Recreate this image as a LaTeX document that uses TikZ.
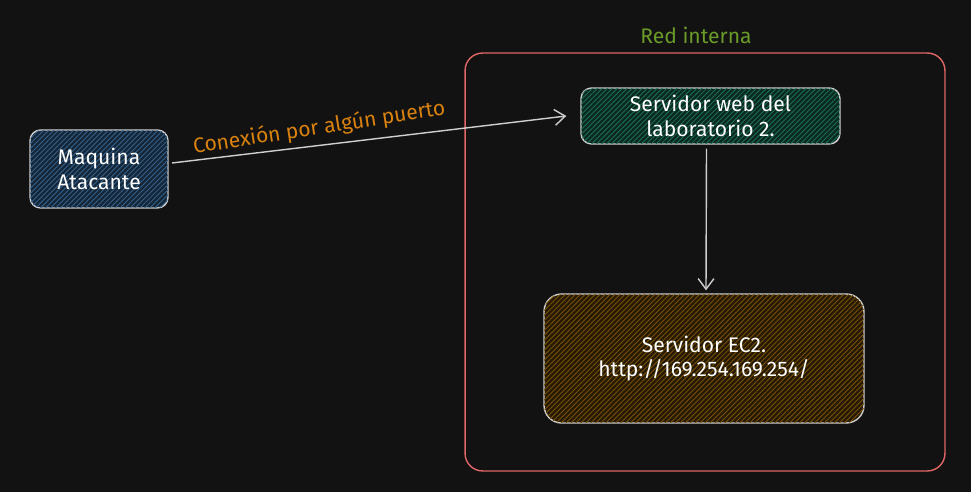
\documentclass[tikz,border=0pt]{standalone}
\usepackage{fontspec}
\setmainfont{Fira Sans}
\usepackage{xcolor}
\usetikzlibrary{arrows.meta,patterns.meta}

\definecolor{fondo}{HTML}{121212}
\definecolor{borde}{HTML}{CFCFCF}
\definecolor{azulbase}{HTML}{142638}
\definecolor{azulraya}{HTML}{36628C}
\definecolor{verdebase}{HTML}{0A2920}
\definecolor{verderaya}{HTML}{1E6E55}
\definecolor{cafebase}{HTML}{261A04}
\definecolor{caferaya}{HTML}{7A5208}
\definecolor{rojored}{HTML}{E06666}
\definecolor{verdetxt}{HTML}{6A9A28}
\definecolor{naranja}{HTML}{D9820F}

\tikzset{
  caja/.style={draw=borde, line width=0.8pt, rounded corners=6pt, align=center,
    text=white, font=\large},
  rayas/.style={postaction={pattern={Lines[angle=45,distance=2pt,line width=0.5pt]},
    pattern color=#1}},
  flecha/.style={line width=0.8pt, draw=borde, -{Straight Barb[length=6pt,width=9pt]}}
}

\begin{document}
\begin{tikzpicture}[x=0.02cm, y=-0.02cm]
    \fill[fondo] (0,0) rectangle (971,492);
    \useasboundingbox (0,0) rectangle (971,492);
    % red interna
    \node[draw=rojored, line width=0.8pt, rounded corners=10pt, minimum width=9.6cm,
      minimum height=8.36cm] (red) at (705,262) {};
    \node[text=verdetxt, font=\large, anchor=south] (redlbl) at (696,50) {Red interna};
    % cajas
    \node[caja, fill=azulbase, rayas=azulraya, minimum width=2.76cm, minimum height=1.56cm]
      (atacante) at (99,169) {Maquina\\Atacante};
    \node[caja, fill=verdebase, rayas=verderaya, minimum width=5.18cm, minimum height=1.12cm]
      (web) at (710.5,116) {Servidor web del\\laboratorio 2.};
    \node[caja, fill=cafebase, rayas=caferaya, minimum width=6.4cm, minimum height=2.58cm,
      rounded corners=10pt] (ec2) at (704,358.5) {Servidor EC2.\\http://169.254.169.254/};
    % conexiones
    \coordinate (ini) at (172,163);
    \draw[flecha] (ini) -- ([xshift=-14*0.02cm]web.west)
      node[pos=0.38, above=0pt, sloped, text=naranja, font=\large, rotate=2] (conlbl)
      {Conexión por algún puerto};
    \draw[flecha] ([xshift=-4*0.02cm,yshift=-4*0.02cm]web.south) -- ([xshift=2*0.02cm,yshift=3*0.02cm]ec2.north);
\end{tikzpicture}
\end{document}
